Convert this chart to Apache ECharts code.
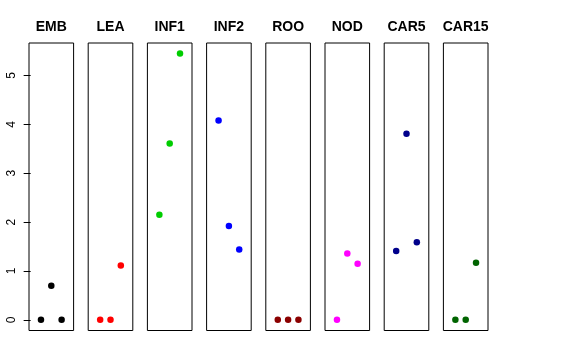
<!DOCTYPE html>
<html>
<head>
<meta charset="utf-8">
<script src="https://cdn.jsdelivr.net/npm/echarts@6/dist/echarts.min.js"></script>
<style>html,body{margin:0;padding:0;background:#fff}#c{width:576px;height:360px}</style>
</head>
<body>
<div id="c"></div>
<script>
var categories = ['EMB','LEA','INF1','INF2','ROO','NOD','CAR5','CAR15'];
var colors = ['#000000','#FF0000','#00CD00','#0000FF','#8B0000','#FF00FF','#00008B','#006400'];
var xPositions = [1, 2, 3];
var EMB = [0, 0.70, 0];
var LEA = [0, 0, 1.11];
var INF1 = [2.15, 3.61, 5.45];
var INF2 = [4.08, 1.92, 1.44];
var ROO = [0, 0, 0];
var NOD = [0, 1.36, 1.15];
var CAR5 = [1.41, 3.81, 1.59];
var CAR15 = [0, 0, 1.17];
var seriesValues = [EMB, LEA, INF1, INF2, ROO, NOD, CAR5, CAR15];
var yTicks = [0, 1, 2, 3, 4, 5];

var chart = echarts.init(document.getElementById('c'));
var grids = [], xAxes = [], yAxes = [], series = [];
var font = 'Liberation Sans, Arial, Helvetica, sans-serif';
for (var i = 0; i < categories.length; i++) {
  grids.push({left: 29 + i * 59.2, top: 43, width: 44.6, height: 287.5,
    show: true, borderColor: '#000', borderWidth: 1, backgroundColor: 'transparent'});
  xAxes.push({gridIndex: i, type: 'value', min: -0.16, max: 4.16, position: 'top',
    name: categories[i], nameLocation: 'middle', nameGap: 9,
    nameTextStyle: {fontFamily: font, fontWeight: 'bold', fontSize: 14, color: '#000', verticalAlign: 'bottom'},
    axisLine: {show: false}, axisTick: {show: false}, axisLabel: {show: false}, splitLine: {show: false}});
  yAxes.push({gridIndex: i, type: 'value', min: -0.218, max: 5.665,
    axisLine: {show: false},
    axisTick: {show: i === 0, length: 7, lineStyle: {color: '#000'}, customValues: yTicks},
    axisLabel: {show: i === 0, rotate: 90, margin: 11, fontFamily: font, fontSize: 12, color: '#000', customValues: yTicks},
    splitLine: {show: false}});
  var d = [];
  for (var j = 0; j < xPositions.length; j++) d.push([xPositions[j], seriesValues[i][j]]);
  series.push({type: 'scatter', xAxisIndex: i, yAxisIndex: i, data: d, symbol: 'circle', symbolSize: 6.5,
    itemStyle: {color: colors[i], opacity: 1}, silent: true});
}
chart.setOption({animation: false, grid: grids, xAxis: xAxes, yAxis: yAxes, series: series});
</script>
</body>
</html>
